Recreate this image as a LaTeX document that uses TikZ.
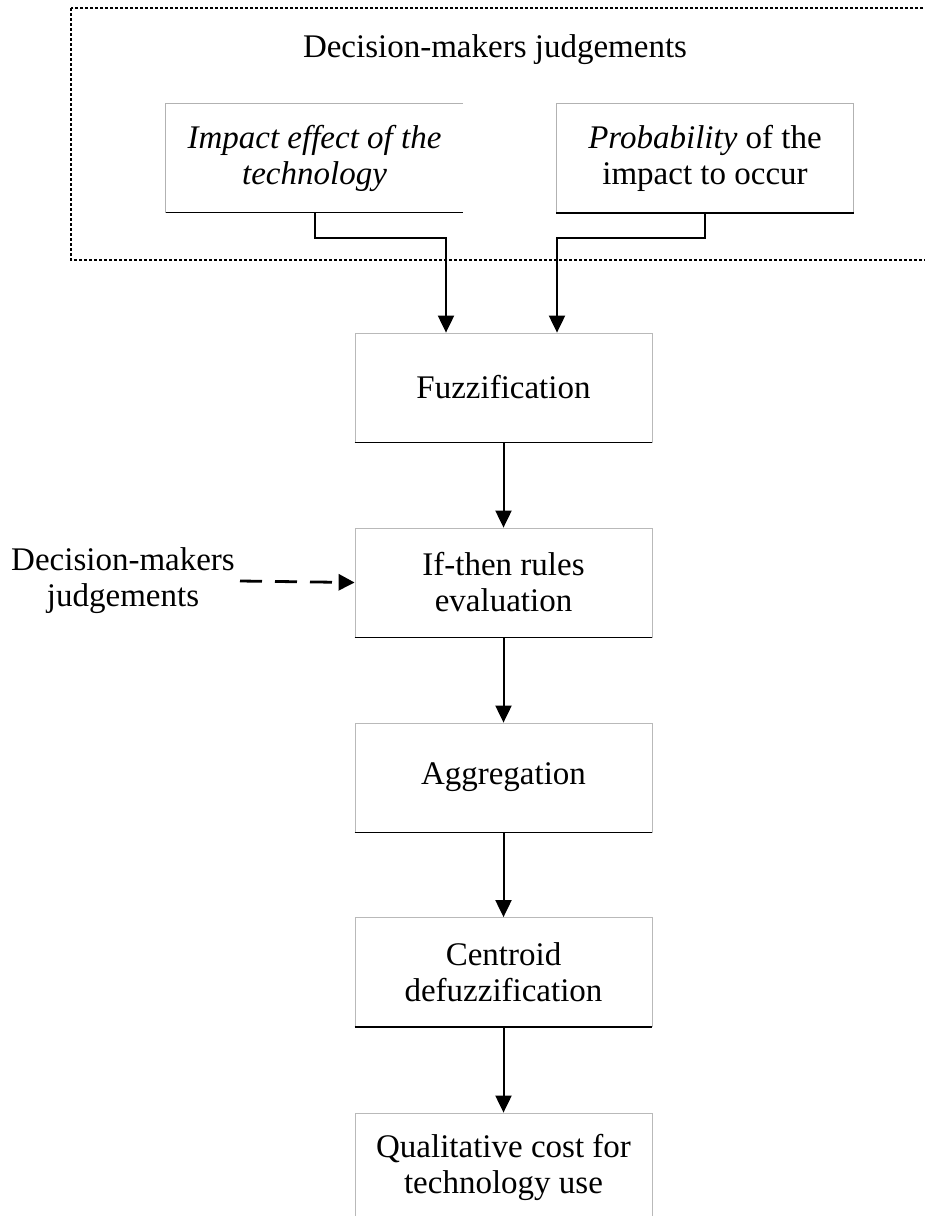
\documentclass[tikz,border=0pt]{standalone}
\usepackage{fontspec}
\setmainfont{Liberation Serif}
\usetikzlibrary{arrows.meta}
\begin{document}
\begin{tikzpicture}[x=1pt,y=-1pt,
  txt/.style={font=\fontsize{33}{36}\selectfont, align=center, inner sep=0pt},
  stage/.style={txt, minimum width=297pt, minimum height=109pt, draw=gray!55, line width=0.8pt},
  inbox/.style={txt, minimum width=297pt, minimum height=109pt},
  baseline edge/.style={line width=1.3pt, black},
  frame/.style={line width=1.6pt, dash pattern=on 3pt off 2pt},
  flow/.style={line width=2pt, -{Triangle[width=16pt,length=17pt]}},
  hint/.style={line width=2.8pt, dash pattern=on 22pt off 13pt, -{Triangle[width=16pt,length=16pt]}}
]
\useasboundingbox (0,0) rectangle (925,1216);

% judgement group
\draw[frame] (71,8) rectangle (945,260);
\node[txt] (title) at (495,50) {Decision-makers judgements};

\node[inbox] (imp) at (314.5,158) {\itshape Impact effect of the\\\itshape technology};
\draw[draw=gray!60, line width=0.8pt] (imp.north east) -- (imp.north west) -- (imp.south west);
\draw[baseline edge] (imp.south west) -- (imp.south east);

\node[inbox, draw=gray!60, line width=0.8pt] (prob) at (705,158) {\textit{Probability} of the\\impact to occur};
\draw[baseline edge] (prob.south west) -- (prob.south east);

% processing chain
\node[stage] (fuzz) at (503.5,387.5) {Fuzzification};
\node[stage] (rules) at (503.5,582.5) {If-then rules\\evaluation};
\node[stage] (aggr) at (503.5,777.5) {Aggregation};
\node[stage] (cent) at (503.5,972) {Centroid\\defuzzification};
\node[stage] (cost) at (503.5,1167.5) {Qualitative cost for\\technology use};

\foreach \n in {fuzz,rules,aggr,cent}
  \draw[baseline edge] (\n.south west) -- (\n.south east);

% connectors
\draw[flow] (imp.south) -- ++(0,25) -| ([xshift=-57.5pt]fuzz.north);
\draw[flow] (prob.south) -- ++(0,25) -| ([xshift=53.5pt]fuzz.north);
\draw[flow] (fuzz) -- (rules);
\draw[flow] (rules) -- (aggr);
\draw[flow] (aggr) -- (cent);
\draw[flow] (cent) -- (cost);

% side input
\node[txt] (dm) at (123,581) {Decision-makers\\judgements};
\draw[hint] (dm.east -| 240,0) -- (rules.west);
\end{tikzpicture}
\end{document}
